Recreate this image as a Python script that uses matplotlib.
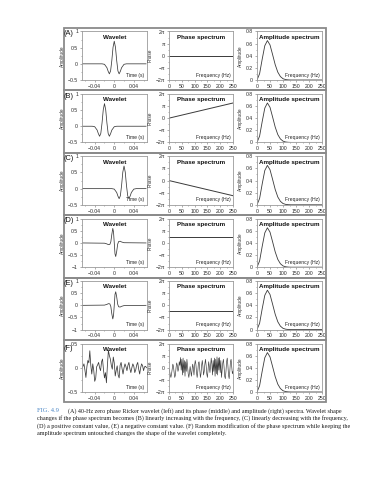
import numpy as np
import matplotlib
matplotlib.use('Agg')
import matplotlib.pyplot as plt
from matplotlib.patches import Rectangle
from matplotlib.ticker import MultipleLocator

# ---- data ----
# zero phase 40 Hz Ricker (times in s)
ricker_amp = [0, 0, -0.015, -0.12, -0.23, -0.31, -0.22, 0.10, 0.51, 0.70, 0.51, 0.10, -0.22, -0.31, -0.23, -0.12, -0.015, 0, 0]
time_a = [-0.065, -0.025, -0.02, -0.015, -0.0125, -0.01, -0.0075, -0.005, -0.0025, 0, 0.0025, 0.005, 0.0075, 0.01, 0.0125, 0.015, 0.02, 0.025, 0.065]
time_b = [-0.065, -0.045, -0.04, -0.035, -0.0325, -0.03, -0.0275, -0.025, -0.0225, -0.02, -0.0175, -0.015, -0.0125, -0.01, -0.0075, -0.005, 0.0, 0.005, 0.065]
time_c = [-0.065, -0.005, 0.0, 0.005, 0.0075, 0.01, 0.0125, 0.015, 0.0175, 0.02, 0.0225, 0.025, 0.0275, 0.03, 0.0325, 0.035, 0.04, 0.045, 0.065]

# +/- 90 degree rotated wavelets
time_de = [-0.065, -0.02, -0.015, -0.012, -0.009, -0.007, -0.005, -0.003, -0.0015, 0, 0.0015, 0.003, 0.005, 0.007, 0.009, 0.012, 0.015, 0.02, 0.065]
wavelet_d = [0, -0.01, -0.04, -0.07, -0.06, 0.05, 0.35, 0.60, 0.45, 0.0, -0.45, -0.56, -0.35, -0.05, 0.06, 0.07, 0.04, 0.01, 0]
wavelet_e = [0, 0.01, 0.04, 0.07, 0.06, -0.05, -0.35, -0.56, -0.42, 0.0, 0.45, 0.56, 0.35, 0.05, -0.06, -0.07, -0.04, -0.01, 0]

# random phase wavelet, sampled every 2 ms from -66 to 66 ms
wavelet_f = [0.0, 0.03, 0.08, -0.05, -0.20, 0.02, 0.15, 0.10, 0.35, 0.05, -0.13, 0.08, -0.05, -0.28,
             -0.22, 0.02, 0.06, 0.11, 0.00, -0.06, 0.12, 0.18, -0.05, -0.21, -0.10, -0.31, 0.05, 0.36,
             0.25, 0.18, 0.05, -0.03, 0.22, 0.10, -0.17, -0.05, 0.04, -0.15, -0.21, 0.05, 0.11, -0.02,
             -0.13, 0.0, 0.08, 0.02, -0.06, 0.05, 0.11, -0.02, -0.10, 0.0, 0.08, 0.03, -0.10, -0.04,
             0.06, 0.11, -0.03, -0.13, 0.0, 0.08, 0.04, -0.06, 0.02, 0.03, 0.0]

# phase spectra (units of pi)
phase_freq = [0, 250]
phase_a = [0, 0]
phase_b = [0, 1.25]
phase_c = [0, -1.25]
phase_d = [0.5, 0.5]
phase_e = [-0.5, -0.5]
# random phase, every 2.5 Hz from 0 to 250 Hz
phase_f = [-0.1, -0.3, -0.6, -0.8, -0.5, -0.1, 0.3, 0.1, -0.4, -0.8, -0.6, 0.0, 0.4, 0.2, -0.3, -0.1,
           0.5, 0.2, 0.85, -0.2, 0.7, -0.6, 0.8, -0.4, 0.6, -0.7, 0.5, -0.3, 0.7, 0.1, -0.5, -0.8,
           -0.4, 0.1, -0.3, -0.7, -0.2, 0.3, 0.0, -0.6, 0.2, 0.6, 0.3, -0.4, -0.8, -0.3, 0.4, 0.5,
           -0.1, -0.8, -0.5, 0.2, 0.6, 0.1, -0.6, -0.3, 0.3, 0.7, 0.2, -0.5, -0.8, -0.2, 0.5, 0.1,
           -0.4, 0.2, 0.8, 0.3, -0.6, 0.6, -0.3, 0.8, -0.7, 0.7, -0.5, 0.9, -0.6, 0.8, -0.2, 0.85,
           -0.4, 0.6, -0.8, -0.2, 0.4, 0.7, 0.1, -0.7, -0.9, -0.3, 0.5, 0.8, 0.2, -0.6, -0.9, -0.3,
           0.5, 0.7, 0.1, -0.5, -0.3]

# amplitude spectrum (same for every row)
amp_freq = [0, 10, 20, 30, 40, 50, 60, 70, 80, 90, 100, 110, 120, 130, 250]
amp_spec = [0, 0.104, 0.344, 0.566, 0.65, 0.579, 0.419, 0.253, 0.129, 0.057, 0.021, 0.007, 0.002, 0, 0]

row_labels = ['(A)', '(B)', '(C)', '(D)', '(E)', '(F)']

caption_lines = [
    '(A) 40-Hz zero phase Ricker wavelet (left) and its phase (middle) and amplitude (right) spectra. Wavelet shape',
    'changes if the phase spectrum becomes (B) linearly increasing with the frequency, (C) linearly decreasing with the frequency,',
    '(D) a positive constant value, (E) a negative constant value. (F) Random modification of the phase spectrum while keeping the',
    'amplitude spectrum untouched changes the shape of the wavelet completely.',
]

W, H = 389, 480
SANS = ['Liberation Sans', 'DejaVu Sans']
SERIF = ['Liberation Serif', 'DejaVu Serif']


def rect(x0, y0, x1, y1):  # pixel box (top-left origin) -> figure fraction
    return [x0 / W, 1 - y1 / H, (x1 - x0) / W, (y1 - y0) / H]


def style(ax):
    for s in ax.spines.values():
        s.set_color('#9a9a9a')
        s.set_linewidth(0.6)
    ax.tick_params(which='both', labelsize=3.7, length=1.6, width=0.4, pad=1.2,
                   color='#707070', labelcolor='#2a2a2a')
    ax.tick_params(which='minor', length=1.0)
    for lab in ax.get_xticklabels() + ax.get_yticklabels():
        lab.set_family(SANS)


def ylab(ax, text):
    ax.set_ylabel(text, fontsize=3.4, family=SANS, labelpad=2, color='#333333')


def title(ax, text):
    ax.text(0.5, 0.88, text, transform=ax.transAxes, ha='center', va='center',
            fontsize=4.5, fontweight='bold', family=SANS, color='#111111')


def corner(ax, text):
    ax.text(0.96, 0.05, text, transform=ax.transAxes, ha='right', va='bottom',
            fontsize=3.6, family=SANS, color='#222222')


fig = plt.figure(figsize=(W / 100, H / 100), dpi=100)

wavelets = [(time_a, ricker_amp), (time_b, ricker_amp), (time_c, ricker_amp),
            (time_de, wavelet_d), (time_de, wavelet_e),
            (np.linspace(-0.066, 0.066, len(wavelet_f)), wavelet_f)]
phases = [(phase_freq, phase_a), (phase_freq, phase_b), (phase_freq, phase_c),
          (phase_freq, phase_d), (phase_freq, phase_e),
          (np.linspace(0, 250, len(phase_f)), phase_f)]
wl_ylims = [(-0.5, 1), (-0.5, 1), (-0.5, 1), (-1, 1), (-1, 1), (-0.5, 0.5)]

for i in range(6):
    top = 28 + 62.4 * i
    # grey frame around each row
    fig.patches.append(Rectangle((63.5 / W, 1 - (top + 62.4) / H), 262.5 / W, 62.4 / H,
                                 transform=fig.transFigure, fill=False,
                                 edgecolor='#8a8a8a', lw=1.3))
    lab_dy = 8.6 if i == 5 else 5.8  # (F) sits a little lower, under the 0.5 label
    fig.text(64.0 / W, 1 - (top + lab_dy) / H, row_labels[i], fontsize=5.3, family=SANS,
             va='center', ha='left', color='#111111')
    y0, y1 = top + 3.5, top + 52

    # wavelet
    ax = fig.add_axes(rect(82, y0, 147, y1))
    t, v = wavelets[i]
    ax.plot(t, v, color='#3a3a3a', lw=0.55)
    ax.set_xlim(-0.066, 0.067)
    ax.set_ylim(*wl_ylims[i])
    ax.set_xticks([-0.04, 0, 0.04])
    ax.set_xticklabels(['\u22120.04', '0', '0.04'])
    ax.xaxis.set_minor_locator(MultipleLocator(0.02))
    lo, hi = wl_ylims[i]
    yt = np.arange(lo, hi + 0.01, 0.5)
    ax.set_yticks(yt)
    ax.set_yticklabels([('%g' % y).replace('-', '\u2212') for y in yt])
    ax.yaxis.set_minor_locator(MultipleLocator(0.25))
    style(ax)
    ylab(ax, 'Amplitude')
    title(ax, 'Wavelet')
    corner(ax, 'Time (s)')

    # phase spectrum
    ax = fig.add_axes(rect(169, y0, 233, y1))
    f, p = phases[i]
    ax.plot(f, np.array(p) * np.pi, color='#3a3a3a', lw=0.45 if i == 5 else 0.7)
    ax.set_xlim(0, 250)
    ax.set_ylim(-2 * np.pi, 2 * np.pi)
    ax.set_xticks(range(0, 251, 50))
    ax.xaxis.set_minor_locator(MultipleLocator(25))
    ax.set_yticks(np.array([-2, -1, 0, 1, 2]) * np.pi)
    ax.set_yticklabels(['\u22122\u03c0', '\u2212\u03c0', '0', '\u03c0', '2\u03c0'])
    ax.yaxis.set_minor_locator(MultipleLocator(np.pi / 2))
    style(ax)
    ylab(ax, 'Phase')
    title(ax, 'Phase spectrum')
    corner(ax, 'Frequency (Hz)')

    # amplitude spectrum
    ax = fig.add_axes(rect(257, y0, 322, y1))
    ax.plot(amp_freq, amp_spec, color='#3a3a3a', lw=0.6)
    ax.set_xlim(0, 250)
    ax.set_ylim(0, 0.8)
    ax.set_xticks(range(0, 251, 50))
    ax.xaxis.set_minor_locator(MultipleLocator(25))
    ax.set_yticks([0, 0.2, 0.4, 0.6, 0.8])
    ax.set_yticklabels(['0', '0.2', '0.4', '0.6', '0.8'])
    ax.yaxis.set_minor_locator(MultipleLocator(0.1))
    style(ax)
    ylab(ax, 'Amplitude')
    title(ax, 'Amplitude spectrum')
    corner(ax, 'Frequency (Hz)')

# caption
fig.text(37 / W, 1 - 411 / H, 'FIG. 4.9', fontsize=4.7, family=SERIF, color='#4a86c5',
         va='center', ha='left')
fig.text(68 / W, 1 - 411 / H, caption_lines[0], fontsize=4.45, family=SERIF,
         color='#1a1a1a', va='center', ha='left')
for k, line in enumerate(caption_lines[1:]):
    fig.text(37 / W, 1 - (418.3 + 7.3 * k) / H, line, fontsize=4.45, family=SERIF,
             color='#1a1a1a', va='center', ha='left')

fig.savefig('out.png', dpi=100)
